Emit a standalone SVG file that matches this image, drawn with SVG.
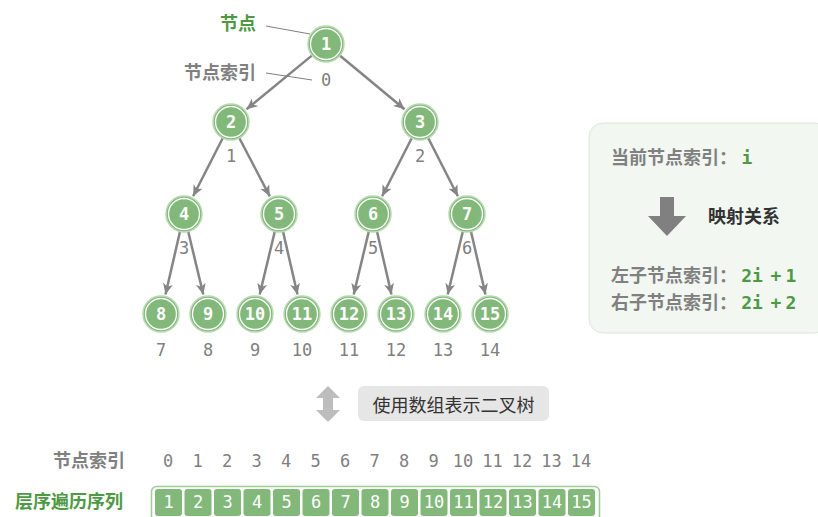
<svg xmlns="http://www.w3.org/2000/svg" width="818" height="517" viewBox="0 0 818 517">
<style>
.nc{fill:#82b87a;stroke:#b5dbae;stroke-width:1.5}
.ni{fill:none;stroke:#fff;stroke-width:1.3}
.nt{font-family:"DejaVu Sans Mono",monospace;font-size:17px;font-weight:bold;fill:#fff;text-anchor:middle;dominant-baseline:central}
.idx{font-family:"DejaVu Sans Mono",monospace;font-size:17px;fill:#808080;text-anchor:middle;dominant-baseline:central}
.e{stroke:#858585;stroke-width:2.5;fill:none;marker-end:url(#ah)}
.cjk{font-family:"Noto Sans CJK SC",sans-serif;font-weight:bold;font-size:18px}
.cell{fill:#82b87a}
.ct{font-family:"DejaVu Sans Mono",monospace;font-size:17px;fill:#fff;text-anchor:middle;dominant-baseline:central}
.fm{font-family:"DejaVu Sans Mono",monospace;font-size:18px;font-weight:bold;fill:#4e9a44;text-anchor:middle}
</style>
<defs>
<marker id="ah" markerUnits="userSpaceOnUse" markerWidth="12" markerHeight="12" viewBox="0 0 12 12" refX="11" refY="6" orient="auto">
<path d="M0,1 L11,6 L0,11 L3,6 Z" fill="#858585"/>
</marker>
</defs>
<rect width="818" height="517" fill="#fff"/>
<g id="connectors">
<line class="e" x1="312.1" y1="55.4" x2="246.5" y2="109.3"/>
<line class="e" x1="339.8" y1="55.5" x2="404.6" y2="109.2"/>
<line class="e" x1="222.8" y1="138" x2="193.1" y2="196.2"/>
<line class="e" x1="239.3" y1="138" x2="269.8" y2="196.3"/>
<line class="e" x1="411.8" y1="138" x2="382.1" y2="196.2"/>
<line class="e" x1="428.2" y1="138" x2="457.9" y2="196.2"/>
<line class="e" x1="180" y1="231.5" x2="165.5" y2="294.5"/>
<line class="e" x1="188.2" y1="231.5" x2="203.3" y2="294.5"/>
<line class="e" x1="274.8" y1="231.5" x2="259.7" y2="294.5"/>
<line class="e" x1="283" y1="231.5" x2="297.5" y2="294.5"/>
<line class="e" x1="368.8" y1="231.5" x2="353.7" y2="294.5"/>
<line class="e" x1="377" y1="231.5" x2="391.5" y2="294.5"/>
<line class="e" x1="462.8" y1="231.5" x2="447.7" y2="294.5"/>
<line class="e" x1="471" y1="231.5" x2="485.5" y2="294.5"/>
<line x1="266" y1="26" x2="310" y2="34" stroke="#808080" stroke-width="1"/>
<line x1="266" y1="73" x2="312" y2="80" stroke="#808080" stroke-width="1"/>
</g>
<g id="n1"><circle class="nc" cx="326" cy="44" r="18"/><circle class="ni" cx="326" cy="44" r="15.5"/><text class="nt" x="326" y="44">1</text><text class="idx" x="326" y="80">0</text></g>
<g id="n2"><circle class="nc" cx="231" cy="122" r="18"/><circle class="ni" cx="231" cy="122" r="15.5"/><text class="nt" x="231" y="122">2</text><text class="idx" x="231" y="156">1</text></g>
<g id="n3"><circle class="nc" cx="420" cy="122" r="18"/><circle class="ni" cx="420" cy="122" r="15.5"/><text class="nt" x="420" y="122">3</text><text class="idx" x="420" y="156">2</text></g>
<g id="n4"><circle class="nc" cx="184" cy="214" r="18"/><circle class="ni" cx="184" cy="214" r="15.5"/><text class="nt" x="184" y="214">4</text><text class="idx" x="184" y="248">3</text></g>
<g id="n5"><circle class="nc" cx="279" cy="214" r="18"/><circle class="ni" cx="279" cy="214" r="15.5"/><text class="nt" x="279" y="214">5</text><text class="idx" x="279" y="248">4</text></g>
<g id="n6"><circle class="nc" cx="373" cy="214" r="18"/><circle class="ni" cx="373" cy="214" r="15.5"/><text class="nt" x="373" y="214">6</text><text class="idx" x="373" y="248">5</text></g>
<g id="n7"><circle class="nc" cx="467" cy="214" r="18"/><circle class="ni" cx="467" cy="214" r="15.5"/><text class="nt" x="467" y="214">7</text><text class="idx" x="467" y="248">6</text></g>
<g id="n8"><circle class="nc" cx="161" cy="314" r="18"/><circle class="ni" cx="161" cy="314" r="15.5"/><text class="nt" x="161" y="314">8</text><text class="idx" x="161" y="350">7</text></g>
<g id="n9"><circle class="nc" cx="208" cy="314" r="18"/><circle class="ni" cx="208" cy="314" r="15.5"/><text class="nt" x="208" y="314">9</text><text class="idx" x="208" y="350">8</text></g>
<g id="n10"><circle class="nc" cx="255" cy="314" r="18"/><circle class="ni" cx="255" cy="314" r="15.5"/><text class="nt" x="255" y="314" font-size="15">10</text><text class="idx" x="255" y="350">9</text></g>
<g id="n11"><circle class="nc" cx="302" cy="314" r="18"/><circle class="ni" cx="302" cy="314" r="15.5"/><text class="nt" x="302" y="314" font-size="15">11</text><text class="idx" x="302" y="350">10</text></g>
<g id="n12"><circle class="nc" cx="349" cy="314" r="18"/><circle class="ni" cx="349" cy="314" r="15.5"/><text class="nt" x="349" y="314" font-size="15">12</text><text class="idx" x="349" y="350">11</text></g>
<g id="n13"><circle class="nc" cx="396" cy="314" r="18"/><circle class="ni" cx="396" cy="314" r="15.5"/><text class="nt" x="396" y="314" font-size="15">13</text><text class="idx" x="396" y="350">12</text></g>
<g id="n14"><circle class="nc" cx="443" cy="314" r="18"/><circle class="ni" cx="443" cy="314" r="15.5"/><text class="nt" x="443" y="314" font-size="15">14</text><text class="idx" x="443" y="350">13</text></g>
<g id="n15"><circle class="nc" cx="490" cy="314" r="18"/><circle class="ni" cx="490" cy="314" r="15.5"/><text class="nt" x="490" y="314" font-size="15">15</text><text class="idx" x="490" y="350">14</text></g>
<g id="labels">
<text class="cjk" x="256" y="30" fill="#4e9a44" text-anchor="end">节点</text>
<text class="cjk" x="256" y="79" fill="#808080" text-anchor="end">节点索引</text>
</g>
<g id="convert">
<path d="M328,386 L340,398 L333,398 L333,410 L340,410 L328,422 L316,410 L323,410 L323,398 L316,398 Z" fill="#bdbdbd"/>
<rect x="358" y="386" width="191" height="35" rx="6" fill="#e6e6e6"/>
<text x="453.5" y="404" font-family="Noto Sans CJK SC,sans-serif" font-size="18" fill="#333" text-anchor="middle" dominant-baseline="central">使用数组表示二叉树</text>
</g>
<g id="panel">
<rect x="589" y="123" width="240" height="210" rx="14" fill="#f2f7f1" stroke="#dbe8d8" stroke-width="1"/>
<text class="cjk" x="611" y="164" fill="#808080" font-size="17.5">当前节点索引：</text>
<text class="fm" x="747" y="164">i</text>
<path d="M660,197 L674,197 L674,216 L686,216 L667,236 L648,216 L660,216 Z" fill="#808080"/>
<text class="cjk" x="708" y="223" fill="#333" font-size="17.5">映射关系</text>
<text class="cjk" x="611" y="282" fill="#808080" font-size="17.5">左子节点索引：</text>
<text class="fm" x="752" y="282">2i</text><text class="fm" x="776" y="282">+</text><text class="fm" x="791" y="282">1</text>
<text class="cjk" x="611" y="309" fill="#808080" font-size="17.5">右子节点索引：</text>
<text class="fm" x="752" y="309">2i</text><text class="fm" x="776" y="309">+</text><text class="fm" x="791" y="309">2</text>
</g>
<g id="array">
<text class="cjk" x="125" y="467" fill="#808080" text-anchor="end">节点索引</text>
<text class="cjk" x="123" y="508" fill="#4e9a44" text-anchor="end">层序遍历序列</text>
<text class="idx" x="168" y="461">0</text><text class="idx" x="197.5" y="461">1</text><text class="idx" x="227" y="461">2</text><text class="idx" x="256.5" y="461">3</text><text class="idx" x="286" y="461">4</text><text class="idx" x="315.5" y="461">5</text><text class="idx" x="345" y="461">6</text><text class="idx" x="374.5" y="461">7</text><text class="idx" x="404" y="461">8</text><text class="idx" x="433.5" y="461">9</text><text class="idx" x="463" y="461">10</text><text class="idx" x="492.5" y="461">11</text><text class="idx" x="522" y="461">12</text><text class="idx" x="551.5" y="461">13</text><text class="idx" x="581" y="461">14</text>
<rect x="151.5" y="486.5" width="448" height="36" rx="5" fill="#fff" stroke="#9fcc96" stroke-width="1.5"/>
<rect class="cell" x="155" y="489" width="27" height="27" rx="3"/><text class="ct" x="168.5" y="502">1</text>
<rect class="cell" x="184.5" y="489" width="27" height="27" rx="3"/><text class="ct" x="198" y="502">2</text>
<rect class="cell" x="214" y="489" width="27" height="27" rx="3"/><text class="ct" x="227.5" y="502">3</text>
<rect class="cell" x="243.5" y="489" width="27" height="27" rx="3"/><text class="ct" x="257" y="502">4</text>
<rect class="cell" x="273" y="489" width="27" height="27" rx="3"/><text class="ct" x="286.5" y="502">5</text>
<rect class="cell" x="302.5" y="489" width="27" height="27" rx="3"/><text class="ct" x="316" y="502">6</text>
<rect class="cell" x="332" y="489" width="27" height="27" rx="3"/><text class="ct" x="345.5" y="502">7</text>
<rect class="cell" x="361.5" y="489" width="27" height="27" rx="3"/><text class="ct" x="375" y="502">8</text>
<rect class="cell" x="391" y="489" width="27" height="27" rx="3"/><text class="ct" x="404.5" y="502">9</text>
<rect class="cell" x="420.5" y="489" width="27" height="27" rx="3"/><text class="ct" x="434" y="502">10</text>
<rect class="cell" x="450" y="489" width="27" height="27" rx="3"/><text class="ct" x="463.5" y="502">11</text>
<rect class="cell" x="479.5" y="489" width="27" height="27" rx="3"/><text class="ct" x="493" y="502">12</text>
<rect class="cell" x="509" y="489" width="27" height="27" rx="3"/><text class="ct" x="522.5" y="502">13</text>
<rect class="cell" x="538.5" y="489" width="27" height="27" rx="3"/><text class="ct" x="552" y="502">14</text>
<rect class="cell" x="568" y="489" width="27" height="27" rx="3"/><text class="ct" x="581.5" y="502">15</text>
</g>
</svg>
